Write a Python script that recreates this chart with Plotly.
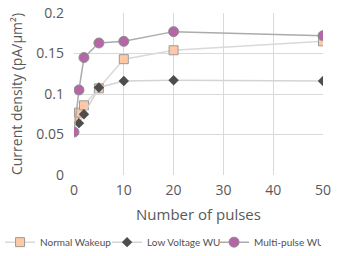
import plotly.graph_objects as go

pulses = [0, 1, 2, 5, 10, 20, 50]
normal_wakeup = [0.071, 0.077, 0.086, 0.107, 0.143, 0.154, 0.165]
lv_pulses = [1, 2, 5, 10, 20, 50]
low_voltage = [0.064, 0.075, 0.108, 0.116, 0.117, 0.116]
multi_pulse = [0.053, 0.105, 0.145, 0.163, 0.165, 0.177, 0.172]

x_ticks = [0, 10, 20, 30, 40, 50]
y_ticks = [0, 0.05, 0.1, 0.15, 0.2]
y_labels = ["0", "0.05", "0.1", "0.15", "0.2"]

fig = go.Figure()
fig.add_trace(go.Scatter(
    x=pulses, y=normal_wakeup, name="Normal Wakeup", mode="lines+markers",
    line=dict(color="#d9d9d9", width=1.5),
    marker=dict(symbol="square", size=9, color="#FFC8A6", line=dict(color="#9a9a9a", width=1))))
fig.add_trace(go.Scatter(
    x=lv_pulses, y=low_voltage, name="Low Voltage WU", mode="lines+markers",
    line=dict(color="#d4d4d4", width=1.5),
    marker=dict(symbol="diamond", size=8, color="#4d4d4d", line=dict(color="#4d4d4d", width=0))))
fig.add_trace(go.Scatter(
    x=pulses, y=multi_pulse, name="Multi-pulse WU", mode="lines+markers",
    line=dict(color="#ababab", width=1.5),
    marker=dict(symbol="circle", size=10, color="#B466A6", line=dict(color="#8f8f8f", width=1))))

fig.update_layout(
    width=341, height=256,
    margin=dict(l=74, r=18, t=13, b=81, autoexpand=False),
    paper_bgcolor="white", plot_bgcolor="white",
    font=dict(family="Open Sans", color="#595959"),
    showlegend=True,
    legend=dict(orientation="h", x=-0.297, xanchor="left", y=-0.325, yanchor="top",
                font=dict(family="Lato", size=10, color="#505050"),
                itemwidth=30, entrywidth=62, entrywidthmode="pixels"),
    xaxis=dict(range=[0, 50], tickvals=x_ticks, showgrid=True, gridcolor="#d9d9d9",
               gridwidth=1, zeroline=False, showline=False, ticks="",
               ticklabelstandoff=5,
               tickfont=dict(size=14, color="#595959"),
               title=dict(text="Number of pulses", font=dict(size=15, color="#595959"), standoff=11)),
    yaxis=dict(range=[0, 0.2], tickvals=y_ticks, ticktext=y_labels, showgrid=True,
               gridcolor="#d9d9d9", gridwidth=1, zeroline=False, showline=False, ticks="",
               ticklabelstandoff=9,
               tickfont=dict(size=14, color="#595959"),
               title=dict(text="Current density (pA/µm²)", font=dict(size=14, color="#595959"), standoff=10)),
)
# remove the default page margin so the 341x256 figure fills the window exactly
fig.write_html("out.html", config={"displayModeBar": False},
               post_script="document.body.style.margin='0';")
